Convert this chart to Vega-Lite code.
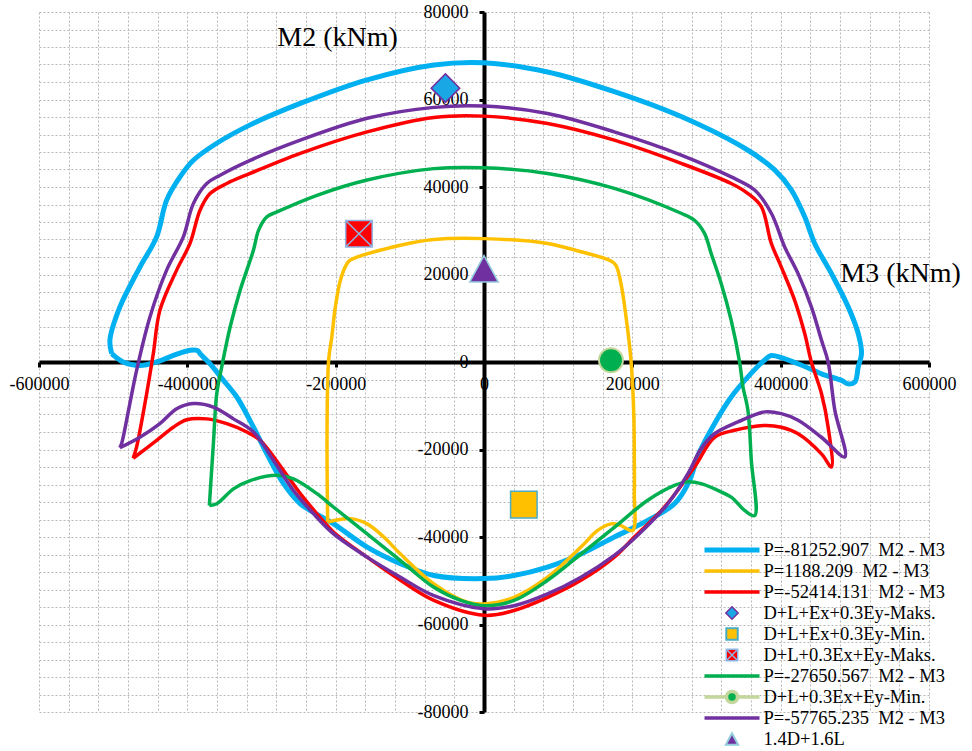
{
  "$schema": "https://vega.github.io/schema/vega-lite/v6.json",
  "width": 890,
  "height": 700,
  "autosize": {"type": "none"},
  "padding": {"left": 39, "top": 12, "right": 43, "bottom": 39},
  "background": "white",
  "datasets": {
    "curves": [
      {"s": "P=-81252.907  M2 - M3", "i": 1, "x": -502000, "y": 1900},
      {"s": "P=-81252.907  M2 - M3", "i": 2, "x": -504400, "y": 5000},
      {"s": "P=-81252.907  M2 - M3", "i": 3, "x": -490900, "y": 12600},
      {"s": "P=-81252.907  M2 - M3", "i": 4, "x": -463900, "y": 21700},
      {"s": "P=-81252.907  M2 - M3", "i": 5, "x": -441400, "y": 28600},
      {"s": "P=-81252.907  M2 - M3", "i": 6, "x": -427900, "y": 37000},
      {"s": "P=-81252.907  M2 - M3", "i": 7, "x": -409900, "y": 42300},
      {"s": "P=-81252.907  M2 - M3", "i": 8, "x": -391900, "y": 46100},
      {"s": "P=-81252.907  M2 - M3", "i": 9, "x": -360300, "y": 50000},
      {"s": "P=-81252.907  M2 - M3", "i": 10, "x": -315300, "y": 54200},
      {"s": "P=-81252.907  M2 - M3", "i": 11, "x": -247700, "y": 59100},
      {"s": "P=-81252.907  M2 - M3", "i": 12, "x": -157600, "y": 64500},
      {"s": "P=-81252.907  M2 - M3", "i": 13, "x": -67600, "y": 67900},
      {"s": "P=-81252.907  M2 - M3", "i": 14, "x": 0, "y": 68400},
      {"s": "P=-81252.907  M2 - M3", "i": 15, "x": 85700, "y": 66300},
      {"s": "P=-81252.907  M2 - M3", "i": 16, "x": 175700, "y": 61800},
      {"s": "P=-81252.907  M2 - M3", "i": 17, "x": 265800, "y": 56100},
      {"s": "P=-81252.907  M2 - M3", "i": 18, "x": 355900, "y": 48400},
      {"s": "P=-81252.907  M2 - M3", "i": 19, "x": 391900, "y": 43900},
      {"s": "P=-81252.907  M2 - M3", "i": 20, "x": 414500, "y": 39300},
      {"s": "P=-81252.907  M2 - M3", "i": 21, "x": 432400, "y": 33200},
      {"s": "P=-81252.907  M2 - M3", "i": 22, "x": 445900, "y": 27100},
      {"s": "P=-81252.907  M2 - M3", "i": 23, "x": 468500, "y": 20200},
      {"s": "P=-81252.907  M2 - M3", "i": 24, "x": 491000, "y": 12600},
      {"s": "P=-81252.907  M2 - M3", "i": 25, "x": 504600, "y": 6500},
      {"s": "P=-81252.907  M2 - M3", "i": 26, "x": 509000, "y": 1900},
      {"s": "P=-81252.907  M2 - M3", "i": 27, "x": 504600, "y": -1100},
      {"s": "P=-81252.907  M2 - M3", "i": 28, "x": 500000, "y": -4600},
      {"s": "P=-81252.907  M2 - M3", "i": 29, "x": 491000, "y": -5000},
      {"s": "P=-81252.907  M2 - M3", "i": 30, "x": 482000, "y": -4200},
      {"s": "P=-81252.907  M2 - M3", "i": 31, "x": 455000, "y": -2700},
      {"s": "P=-81252.907  M2 - M3", "i": 32, "x": 423500, "y": -400},
      {"s": "P=-81252.907  M2 - M3", "i": 33, "x": 387400, "y": 1500},
      {"s": "P=-81252.907  M2 - M3", "i": 34, "x": 380000, "y": 700},
      {"s": "P=-81252.907  M2 - M3", "i": 35, "x": 355900, "y": -3400},
      {"s": "P=-81252.907  M2 - M3", "i": 36, "x": 333300, "y": -8000},
      {"s": "P=-81252.907  M2 - M3", "i": 37, "x": 310800, "y": -14100},
      {"s": "P=-81252.907  M2 - M3", "i": 38, "x": 290000, "y": -20800},
      {"s": "P=-81252.907  M2 - M3", "i": 39, "x": 276000, "y": -27500},
      {"s": "P=-81252.907  M2 - M3", "i": 40, "x": 256800, "y": -32400},
      {"s": "P=-81252.907  M2 - M3", "i": 41, "x": 220800, "y": -36200},
      {"s": "P=-81252.907  M2 - M3", "i": 42, "x": 175700, "y": -40000},
      {"s": "P=-81252.907  M2 - M3", "i": 43, "x": 130700, "y": -43900},
      {"s": "P=-81252.907  M2 - M3", "i": 44, "x": 85700, "y": -46900},
      {"s": "P=-81252.907  M2 - M3", "i": 45, "x": 40500, "y": -48800},
      {"s": "P=-81252.907  M2 - M3", "i": 46, "x": 0, "y": -49500},
      {"s": "P=-81252.907  M2 - M3", "i": 47, "x": -67600, "y": -48800},
      {"s": "P=-81252.907  M2 - M3", "i": 48, "x": -112600, "y": -46100},
      {"s": "P=-81252.907  M2 - M3", "i": 49, "x": -157600, "y": -42300},
      {"s": "P=-81252.907  M2 - M3", "i": 50, "x": -202700, "y": -37000},
      {"s": "P=-81252.907  M2 - M3", "i": 51, "x": -247700, "y": -32400},
      {"s": "P=-81252.907  M2 - M3", "i": 52, "x": -270300, "y": -27800},
      {"s": "P=-81252.907  M2 - M3", "i": 53, "x": -292700, "y": -21000},
      {"s": "P=-81252.907  M2 - M3", "i": 54, "x": -310800, "y": -14900},
      {"s": "P=-81252.907  M2 - M3", "i": 55, "x": -333300, "y": -8000},
      {"s": "P=-81252.907  M2 - M3", "i": 56, "x": -351300, "y": -4200},
      {"s": "P=-81252.907  M2 - M3", "i": 57, "x": -369400, "y": -400},
      {"s": "P=-81252.907  M2 - M3", "i": 58, "x": -382900, "y": 1900},
      {"s": "P=-81252.907  M2 - M3", "i": 59, "x": -386000, "y": 2600},
      {"s": "P=-81252.907  M2 - M3", "i": 60, "x": -396400, "y": 2700},
      {"s": "P=-81252.907  M2 - M3", "i": 61, "x": -418900, "y": 1500},
      {"s": "P=-81252.907  M2 - M3", "i": 62, "x": -441400, "y": 0},
      {"s": "P=-81252.907  M2 - M3", "i": 63, "x": -463900, "y": -800},
      {"s": "P=-81252.907  M2 - M3", "i": 64, "x": -486500, "y": 0},
      {"s": "P=-81252.907  M2 - M3", "i": 65, "x": -502000, "y": 1900},

      {"s": "P=1188.209  M2 - M3", "i": 1, "x": -210800, "y": -36600},
      {"s": "P=1188.209  M2 - M3", "i": 2, "x": -211600, "y": -14900},
      {"s": "P=1188.209  M2 - M3", "i": 3, "x": -209500, "y": 400},
      {"s": "P=1188.209  M2 - M3", "i": 4, "x": -205000, "y": 6000},
      {"s": "P=1188.209  M2 - M3", "i": 5, "x": -200400, "y": 12600},
      {"s": "P=1188.209  M2 - M3", "i": 6, "x": -193600, "y": 18700},
      {"s": "P=1188.209  M2 - M3", "i": 7, "x": -184600, "y": 22500},
      {"s": "P=1188.209  M2 - M3", "i": 8, "x": -180200, "y": 23300},
      {"s": "P=1188.209  M2 - M3", "i": 9, "x": -112600, "y": 26700},
      {"s": "P=1188.209  M2 - M3", "i": 10, "x": -67600, "y": 28000},
      {"s": "P=1188.209  M2 - M3", "i": 11, "x": 0, "y": 28200},
      {"s": "P=1188.209  M2 - M3", "i": 12, "x": 85700, "y": 27100},
      {"s": "P=1188.209  M2 - M3", "i": 13, "x": 130700, "y": 25200},
      {"s": "P=1188.209  M2 - M3", "i": 14, "x": 171200, "y": 23100},
      {"s": "P=1188.209  M2 - M3", "i": 15, "x": 177900, "y": 22100},
      {"s": "P=1188.209  M2 - M3", "i": 16, "x": 184700, "y": 17900},
      {"s": "P=1188.209  M2 - M3", "i": 17, "x": 191500, "y": 10300},
      {"s": "P=1188.209  M2 - M3", "i": 18, "x": 198200, "y": 400},
      {"s": "P=1188.209  M2 - M3", "i": 19, "x": 202000, "y": -12000},
      {"s": "P=1188.209  M2 - M3", "i": 20, "x": 202700, "y": -22500},
      {"s": "P=1188.209  M2 - M3", "i": 21, "x": 202700, "y": -30100},
      {"s": "P=1188.209  M2 - M3", "i": 22, "x": 200500, "y": -38500},
      {"s": "P=1188.209  M2 - M3", "i": 23, "x": 184700, "y": -37400},
      {"s": "P=1188.209  M2 - M3", "i": 24, "x": 171200, "y": -37000},
      {"s": "P=1188.209  M2 - M3", "i": 25, "x": 153200, "y": -38500},
      {"s": "P=1188.209  M2 - M3", "i": 26, "x": 130700, "y": -42300},
      {"s": "P=1188.209  M2 - M3", "i": 27, "x": 85700, "y": -49200},
      {"s": "P=1188.209  M2 - M3", "i": 28, "x": 40500, "y": -53800},
      {"s": "P=1188.209  M2 - M3", "i": 29, "x": 0, "y": -55300},
      {"s": "P=1188.209  M2 - M3", "i": 30, "x": -22500, "y": -54900},
      {"s": "P=1188.209  M2 - M3", "i": 31, "x": -67600, "y": -50700},
      {"s": "P=1188.209  M2 - M3", "i": 32, "x": -112600, "y": -43900},
      {"s": "P=1188.209  M2 - M3", "i": 33, "x": -135100, "y": -40000},
      {"s": "P=1188.209  M2 - M3", "i": 34, "x": -157600, "y": -37000},
      {"s": "P=1188.209  M2 - M3", "i": 35, "x": -180200, "y": -35800},
      {"s": "P=1188.209  M2 - M3", "i": 36, "x": -210800, "y": -36600},

      {"s": "P=-52414.131  M2 - M3", "i": 1, "x": -473000, "y": -22000},
      {"s": "P=-52414.131  M2 - M3", "i": 2, "x": -468400, "y": -19400},
      {"s": "P=-52414.131  M2 - M3", "i": 3, "x": -457200, "y": -9500},
      {"s": "P=-52414.131  M2 - M3", "i": 4, "x": -445900, "y": 1900},
      {"s": "P=-52414.131  M2 - M3", "i": 5, "x": -437000, "y": 11800},
      {"s": "P=-52414.131  M2 - M3", "i": 6, "x": -414400, "y": 21000},
      {"s": "P=-52414.131  M2 - M3", "i": 7, "x": -396400, "y": 27100},
      {"s": "P=-52414.131  M2 - M3", "i": 8, "x": -382900, "y": 34700},
      {"s": "P=-52414.131  M2 - M3", "i": 9, "x": -369400, "y": 38500},
      {"s": "P=-52414.131  M2 - M3", "i": 10, "x": -346800, "y": 40800},
      {"s": "P=-52414.131  M2 - M3", "i": 11, "x": -315300, "y": 43100},
      {"s": "P=-52414.131  M2 - M3", "i": 12, "x": -247700, "y": 47700},
      {"s": "P=-52414.131  M2 - M3", "i": 13, "x": -157600, "y": 52600},
      {"s": "P=-52414.131  M2 - M3", "i": 14, "x": -67600, "y": 55900},
      {"s": "P=-52414.131  M2 - M3", "i": 15, "x": 0, "y": 56200},
      {"s": "P=-52414.131  M2 - M3", "i": 16, "x": 85700, "y": 54500},
      {"s": "P=-52414.131  M2 - M3", "i": 17, "x": 175700, "y": 50700},
      {"s": "P=-52414.131  M2 - M3", "i": 18, "x": 265800, "y": 45400},
      {"s": "P=-52414.131  M2 - M3", "i": 19, "x": 333300, "y": 40800},
      {"s": "P=-52414.131  M2 - M3", "i": 20, "x": 355900, "y": 38500},
      {"s": "P=-52414.131  M2 - M3", "i": 21, "x": 373900, "y": 35500},
      {"s": "P=-52414.131  M2 - M3", "i": 22, "x": 387400, "y": 27100},
      {"s": "P=-52414.131  M2 - M3", "i": 23, "x": 400900, "y": 21700},
      {"s": "P=-52414.131  M2 - M3", "i": 24, "x": 418900, "y": 14100},
      {"s": "P=-52414.131  M2 - M3", "i": 25, "x": 432400, "y": 6500},
      {"s": "P=-52414.131  M2 - M3", "i": 26, "x": 441400, "y": 0},
      {"s": "P=-52414.131  M2 - M3", "i": 27, "x": 455000, "y": -7200},
      {"s": "P=-52414.131  M2 - M3", "i": 28, "x": 464000, "y": -14900},
      {"s": "P=-52414.131  M2 - M3", "i": 29, "x": 468500, "y": -24000},
      {"s": "P=-52414.131  M2 - M3", "i": 30, "x": 455000, "y": -21000},
      {"s": "P=-52414.131  M2 - M3", "i": 31, "x": 423500, "y": -16400},
      {"s": "P=-52414.131  M2 - M3", "i": 32, "x": 400900, "y": -14900},
      {"s": "P=-52414.131  M2 - M3", "i": 33, "x": 378400, "y": -14500},
      {"s": "P=-52414.131  M2 - M3", "i": 34, "x": 337800, "y": -15600},
      {"s": "P=-52414.131  M2 - M3", "i": 35, "x": 310800, "y": -17200},
      {"s": "P=-52414.131  M2 - M3", "i": 36, "x": 283800, "y": -24000},
      {"s": "P=-52414.131  M2 - M3", "i": 37, "x": 243200, "y": -33200},
      {"s": "P=-52414.131  M2 - M3", "i": 38, "x": 202700, "y": -40000},
      {"s": "P=-52414.131  M2 - M3", "i": 39, "x": 175700, "y": -44600},
      {"s": "P=-52414.131  M2 - M3", "i": 40, "x": 130700, "y": -49900},
      {"s": "P=-52414.131  M2 - M3", "i": 41, "x": 85700, "y": -53800},
      {"s": "P=-52414.131  M2 - M3", "i": 42, "x": 40500, "y": -56800},
      {"s": "P=-52414.131  M2 - M3", "i": 43, "x": 0, "y": -57900},
      {"s": "P=-52414.131  M2 - M3", "i": 44, "x": -67600, "y": -54500},
      {"s": "P=-52414.131  M2 - M3", "i": 45, "x": -112600, "y": -49900},
      {"s": "P=-52414.131  M2 - M3", "i": 46, "x": -157600, "y": -44600},
      {"s": "P=-52414.131  M2 - M3", "i": 47, "x": -202700, "y": -38900},
      {"s": "P=-52414.131  M2 - M3", "i": 48, "x": -225200, "y": -34700},
      {"s": "P=-52414.131  M2 - M3", "i": 49, "x": -247700, "y": -30100},
      {"s": "P=-52414.131  M2 - M3", "i": 50, "x": -270300, "y": -24800},
      {"s": "P=-52414.131  M2 - M3", "i": 51, "x": -301800, "y": -17900},
      {"s": "P=-52414.131  M2 - M3", "i": 52, "x": -319800, "y": -16000},
      {"s": "P=-52414.131  M2 - M3", "i": 53, "x": -346800, "y": -14100},
      {"s": "P=-52414.131  M2 - M3", "i": 54, "x": -373800, "y": -13000},
      {"s": "P=-52414.131  M2 - M3", "i": 55, "x": -400900, "y": -13200},
      {"s": "P=-52414.131  M2 - M3", "i": 56, "x": -418900, "y": -14900},
      {"s": "P=-52414.131  M2 - M3", "i": 57, "x": -441400, "y": -17900},
      {"s": "P=-52414.131  M2 - M3", "i": 58, "x": -473000, "y": -22000},

      {"s": "P=-27650.567  M2 - M3", "i": 1, "x": -370300, "y": -32800},
      {"s": "P=-27650.567  M2 - M3", "i": 2, "x": -364900, "y": -18700},
      {"s": "P=-27650.567  M2 - M3", "i": 3, "x": -360300, "y": -7200},
      {"s": "P=-27650.567  M2 - M3", "i": 4, "x": -353600, "y": -1100},
      {"s": "P=-27650.567  M2 - M3", "i": 5, "x": -342300, "y": 8000},
      {"s": "P=-27650.567  M2 - M3", "i": 6, "x": -328800, "y": 16400},
      {"s": "P=-27650.567  M2 - M3", "i": 7, "x": -310800, "y": 25600},
      {"s": "P=-27650.567  M2 - M3", "i": 8, "x": -304000, "y": 30100},
      {"s": "P=-27650.567  M2 - M3", "i": 9, "x": -292700, "y": 33200},
      {"s": "P=-27650.567  M2 - M3", "i": 10, "x": -279200, "y": 34300},
      {"s": "P=-27650.567  M2 - M3", "i": 11, "x": -225200, "y": 38100},
      {"s": "P=-27650.567  M2 - M3", "i": 12, "x": -157600, "y": 41600},
      {"s": "P=-27650.567  M2 - M3", "i": 13, "x": -67600, "y": 44200},
      {"s": "P=-27650.567  M2 - M3", "i": 14, "x": 0, "y": 44400},
      {"s": "P=-27650.567  M2 - M3", "i": 15, "x": 85700, "y": 43100},
      {"s": "P=-27650.567  M2 - M3", "i": 16, "x": 175700, "y": 39700},
      {"s": "P=-27650.567  M2 - M3", "i": 17, "x": 265800, "y": 34000},
      {"s": "P=-27650.567  M2 - M3", "i": 18, "x": 283800, "y": 32400},
      {"s": "P=-27650.567  M2 - M3", "i": 19, "x": 297300, "y": 29400},
      {"s": "P=-27650.567  M2 - M3", "i": 20, "x": 306300, "y": 24800},
      {"s": "P=-27650.567  M2 - M3", "i": 21, "x": 319900, "y": 17900},
      {"s": "P=-27650.567  M2 - M3", "i": 22, "x": 333300, "y": 9500},
      {"s": "P=-27650.567  M2 - M3", "i": 23, "x": 344600, "y": 0},
      {"s": "P=-27650.567  M2 - M3", "i": 24, "x": 349200, "y": -5700},
      {"s": "P=-27650.567  M2 - M3", "i": 25, "x": 355900, "y": -11100},
      {"s": "P=-27650.567  M2 - M3", "i": 26, "x": 360400, "y": -22500},
      {"s": "P=-27650.567  M2 - M3", "i": 27, "x": 364900, "y": -35100},
      {"s": "P=-27650.567  M2 - M3", "i": 28, "x": 351300, "y": -33900},
      {"s": "P=-27650.567  M2 - M3", "i": 29, "x": 333300, "y": -30900},
      {"s": "P=-27650.567  M2 - M3", "i": 30, "x": 310800, "y": -29000},
      {"s": "P=-27650.567  M2 - M3", "i": 31, "x": 292800, "y": -27800},
      {"s": "P=-27650.567  M2 - M3", "i": 32, "x": 274800, "y": -27400},
      {"s": "P=-27650.567  M2 - M3", "i": 33, "x": 256800, "y": -28200},
      {"s": "P=-27650.567  M2 - M3", "i": 34, "x": 220800, "y": -31600},
      {"s": "P=-27650.567  M2 - M3", "i": 35, "x": 175700, "y": -37800},
      {"s": "P=-27650.567  M2 - M3", "i": 36, "x": 130700, "y": -43900},
      {"s": "P=-27650.567  M2 - M3", "i": 37, "x": 85700, "y": -49900},
      {"s": "P=-27650.567  M2 - M3", "i": 38, "x": 40500, "y": -54500},
      {"s": "P=-27650.567  M2 - M3", "i": 39, "x": 0, "y": -55700},
      {"s": "P=-27650.567  M2 - M3", "i": 40, "x": -31500, "y": -54500},
      {"s": "P=-27650.567  M2 - M3", "i": 41, "x": -67600, "y": -51500},
      {"s": "P=-27650.567  M2 - M3", "i": 42, "x": -112600, "y": -45400},
      {"s": "P=-27650.567  M2 - M3", "i": 43, "x": -157600, "y": -39300},
      {"s": "P=-27650.567  M2 - M3", "i": 44, "x": -202700, "y": -33200},
      {"s": "P=-27650.567  M2 - M3", "i": 45, "x": -225200, "y": -30100},
      {"s": "P=-27650.567  M2 - M3", "i": 46, "x": -256800, "y": -26700},
      {"s": "P=-27650.567  M2 - M3", "i": 47, "x": -279200, "y": -25900},
      {"s": "P=-27650.567  M2 - M3", "i": 48, "x": -315300, "y": -27100},
      {"s": "P=-27650.567  M2 - M3", "i": 49, "x": -337800, "y": -29000},
      {"s": "P=-27650.567  M2 - M3", "i": 50, "x": -360300, "y": -32400},
      {"s": "P=-27650.567  M2 - M3", "i": 51, "x": -370300, "y": -32800},

      {"s": "P=-57765.235  M2 - M3", "i": 1, "x": -491000, "y": -19600},
      {"s": "P=-57765.235  M2 - M3", "i": 2, "x": -488700, "y": -18700},
      {"s": "P=-57765.235  M2 - M3", "i": 3, "x": -477500, "y": -9500},
      {"s": "P=-57765.235  M2 - M3", "i": 4, "x": -468400, "y": -1900},
      {"s": "P=-57765.235  M2 - M3", "i": 5, "x": -450400, "y": 10300},
      {"s": "P=-57765.235  M2 - M3", "i": 6, "x": -427900, "y": 21000},
      {"s": "P=-57765.235  M2 - M3", "i": 7, "x": -405400, "y": 28600},
      {"s": "P=-57765.235  M2 - M3", "i": 8, "x": -391900, "y": 36200},
      {"s": "P=-57765.235  M2 - M3", "i": 9, "x": -373800, "y": 40800},
      {"s": "P=-57765.235  M2 - M3", "i": 10, "x": -355800, "y": 42700},
      {"s": "P=-57765.235  M2 - M3", "i": 11, "x": -315300, "y": 46100},
      {"s": "P=-57765.235  M2 - M3", "i": 12, "x": -247700, "y": 50700},
      {"s": "P=-57765.235  M2 - M3", "i": 13, "x": -157600, "y": 55700},
      {"s": "P=-57765.235  M2 - M3", "i": 14, "x": -67600, "y": 58200},
      {"s": "P=-57765.235  M2 - M3", "i": 15, "x": 0, "y": 58500},
      {"s": "P=-57765.235  M2 - M3", "i": 16, "x": 85700, "y": 56800},
      {"s": "P=-57765.235  M2 - M3", "i": 17, "x": 175700, "y": 52600},
      {"s": "P=-57765.235  M2 - M3", "i": 18, "x": 265800, "y": 47300},
      {"s": "P=-57765.235  M2 - M3", "i": 19, "x": 333300, "y": 42300},
      {"s": "P=-57765.235  M2 - M3", "i": 20, "x": 364900, "y": 39300},
      {"s": "P=-57765.235  M2 - M3", "i": 21, "x": 387400, "y": 34000},
      {"s": "P=-57765.235  M2 - M3", "i": 22, "x": 405400, "y": 26300},
      {"s": "P=-57765.235  M2 - M3", "i": 23, "x": 423500, "y": 20200},
      {"s": "P=-57765.235  M2 - M3", "i": 24, "x": 441400, "y": 12600},
      {"s": "P=-57765.235  M2 - M3", "i": 25, "x": 455000, "y": 5000},
      {"s": "P=-57765.235  M2 - M3", "i": 26, "x": 464000, "y": 0},
      {"s": "P=-57765.235  M2 - M3", "i": 27, "x": 473000, "y": -11000},
      {"s": "P=-57765.235  M2 - M3", "i": 28, "x": 486500, "y": -21700},
      {"s": "P=-57765.235  M2 - M3", "i": 29, "x": 455000, "y": -17200},
      {"s": "P=-57765.235  M2 - M3", "i": 30, "x": 423500, "y": -13300},
      {"s": "P=-57765.235  M2 - M3", "i": 31, "x": 400900, "y": -11800},
      {"s": "P=-57765.235  M2 - M3", "i": 32, "x": 378400, "y": -11400},
      {"s": "P=-57765.235  M2 - M3", "i": 33, "x": 342400, "y": -13700},
      {"s": "P=-57765.235  M2 - M3", "i": 34, "x": 310800, "y": -16400},
      {"s": "P=-57765.235  M2 - M3", "i": 35, "x": 292000, "y": -20000},
      {"s": "P=-57765.235  M2 - M3", "i": 36, "x": 275000, "y": -25500},
      {"s": "P=-57765.235  M2 - M3", "i": 37, "x": 247700, "y": -32400},
      {"s": "P=-57765.235  M2 - M3", "i": 38, "x": 207300, "y": -39600},
      {"s": "P=-57765.235  M2 - M3", "i": 39, "x": 175700, "y": -44200},
      {"s": "P=-57765.235  M2 - M3", "i": 40, "x": 130700, "y": -49200},
      {"s": "P=-57765.235  M2 - M3", "i": 41, "x": 85700, "y": -53000},
      {"s": "P=-57765.235  M2 - M3", "i": 42, "x": 40500, "y": -55700},
      {"s": "P=-57765.235  M2 - M3", "i": 43, "x": 0, "y": -56400},
      {"s": "P=-57765.235  M2 - M3", "i": 44, "x": -67600, "y": -53400},
      {"s": "P=-57765.235  M2 - M3", "i": 45, "x": -112600, "y": -49200},
      {"s": "P=-57765.235  M2 - M3", "i": 46, "x": -157600, "y": -44600},
      {"s": "P=-57765.235  M2 - M3", "i": 47, "x": -202700, "y": -39300},
      {"s": "P=-57765.235  M2 - M3", "i": 48, "x": -229700, "y": -34700},
      {"s": "P=-57765.235  M2 - M3", "i": 49, "x": -256800, "y": -29400},
      {"s": "P=-57765.235  M2 - M3", "i": 50, "x": -283800, "y": -22500},
      {"s": "P=-57765.235  M2 - M3", "i": 51, "x": -310800, "y": -16000},
      {"s": "P=-57765.235  M2 - M3", "i": 52, "x": -337800, "y": -13000},
      {"s": "P=-57765.235  M2 - M3", "i": 53, "x": -364900, "y": -10300},
      {"s": "P=-57765.235  M2 - M3", "i": 54, "x": -391900, "y": -9500},
      {"s": "P=-57765.235  M2 - M3", "i": 55, "x": -414400, "y": -10700},
      {"s": "P=-57765.235  M2 - M3", "i": 56, "x": -437000, "y": -14100},
      {"s": "P=-57765.235  M2 - M3", "i": 57, "x": -463900, "y": -17200},
      {"s": "P=-57765.235  M2 - M3", "i": 58, "x": -491000, "y": -19600}
    ],
    "pts": [
      {"s": "D+L+Ex+0.3Ey-Maks.", "x": -52000, "y": 62600},
      {"s": "D+L+Ex+0.3Ey-Min.", "x": 53700, "y": -32600},
      {"s": "D+L+0.3Ex+Ey-Maks.", "x": -168600, "y": 29300},
      {"s": "D+L+0.3Ex+Ey-Min.", "x": 171200, "y": 400},
      {"s": "1.4D+1.6L", "x": 0, "y": 21300}
    ]
  },
  "encoding": {
    "x": {
      "field": "x", "type": "quantitative",
      "scale": {"domain": [-600000, 600000], "nice": false, "zero": false},
      "axis": {
        "orient": "bottom", "offset": -350,
        "values": [-600000,-560000,-520000,-480000,-440000,-400000,-360000,-320000,-280000,-240000,-200000,-160000,-120000,-80000,-40000,0,40000,80000,120000,160000,200000,240000,280000,320000,360000,400000,440000,480000,520000,560000,600000],
        "labelExpr": "datum.value % 200000 === 0 ? '' + datum.value : ''",
        "tickOpacity": {"condition": {"test": "datum.value % 200000 === 0", "value": 1}, "value": 0},
        "title": "M3 (kNm)", "titleX": 861, "titleY": -89, "titleAngle": 0,
        "titleAlign": "center", "titleBaseline": "middle",
        "labelPadding": 8
      }
    },
    "y": {
      "field": "y", "type": "quantitative",
      "scale": {"domain": [-80000, 80000], "nice": false, "zero": false},
      "axis": {
        "orient": "left", "offset": -445,
        "values": [-80000,-76000,-72000,-68000,-64000,-60000,-56000,-52000,-48000,-44000,-40000,-36000,-32000,-28000,-24000,-20000,-16000,-12000,-8000,-4000,0,4000,8000,12000,16000,20000,24000,28000,32000,36000,40000,44000,48000,52000,56000,60000,64000,68000,72000,76000,80000],
        "labelExpr": "datum.value % 20000 === 0 ? '' + datum.value : ''",
        "tickOpacity": {"condition": {"test": "datum.value % 20000 === 0", "value": 1}, "value": 0},
        "title": "M2 (kNm)", "titleX": -147, "titleY": 25, "titleAngle": 0,
        "titleAlign": "center", "titleBaseline": "middle",
        "labelPadding": 11
      }
    }
  },
  "layer": [
    {
      "data": {"name": "curves"},
      "mark": {"type": "line", "interpolate": "catmull-rom"},
      "encoding": {
        "order": {"field": "i", "type": "quantitative"},
        "stroke": {
          "field": "s", "type": "nominal",
          "scale": {
            "domain": ["P=-81252.907  M2 - M3", "P=1188.209  M2 - M3", "P=-52414.131  M2 - M3", "D+L+Ex+0.3Ey-Maks.", "D+L+Ex+0.3Ey-Min.", "D+L+0.3Ex+Ey-Maks.", "P=-27650.567  M2 - M3", "D+L+0.3Ex+Ey-Min.", "P=-57765.235  M2 - M3", "1.4D+1.6L"],
            "range": ["#00b0f0", "#ffc000", "#ff0000", "#7030a0", "#4bacc6", "#8eb4e3", "#00b050", "#c3d69b", "#7030a0", "#92cddc"]
          },
          "legend": {"title": null, "labelExpr": "replace(datum.label, '  ', '\u00a0 ')"}
        },
        "strokeWidth": {
          "field": "s", "type": "nominal",
          "scale": {
            "type": "ordinal",
            "domain": ["P=-81252.907  M2 - M3", "P=1188.209  M2 - M3", "P=-52414.131  M2 - M3", "D+L+Ex+0.3Ey-Maks.", "D+L+Ex+0.3Ey-Min.", "D+L+0.3Ex+Ey-Maks.", "P=-27650.567  M2 - M3", "D+L+0.3Ex+Ey-Min.", "P=-57765.235  M2 - M3", "1.4D+1.6L"],
            "range": [5, 3.5, 3.5, 1.5, 2, 1.5, 3.5, 3.5, 3.5, 2]
          },
          "legend": {"title": null, "labelExpr": "replace(datum.label, '  ', '\u00a0 ')"}
        }
      }
    },
    {
      "data": {"name": "pts"},
      "transform": [{"filter": "datum.s !== 'D+L+0.3Ex+Ey-Min.'"}],
      "mark": {"type": "point", "filled": true, "size": 2600, "strokeWidth": 1.5, "opacity": 1},
      "encoding": {
        "shape": {
          "field": "s", "type": "nominal",
          "scale": {
            "domain": ["P=-81252.907  M2 - M3", "P=1188.209  M2 - M3", "P=-52414.131  M2 - M3", "D+L+Ex+0.3Ey-Maks.", "D+L+Ex+0.3Ey-Min.", "D+L+0.3Ex+Ey-Maks.", "P=-27650.567  M2 - M3", "D+L+0.3Ex+Ey-Min.", "P=-57765.235  M2 - M3", "1.4D+1.6L"],
            "range": [
              "M-2.5,0H2.5",
              "M-2.5,0H2.5",
              "M-2.5,0H2.5",
              "M0,-0.56L0.56,0L0,0.56L-0.56,0Z",
              "M-0.52,-0.52H0.52V0.52H-0.52Z",
              "M-0.52,-0.52H0.52V0.52H-0.52Z M-0.52,-0.52L0.52,0.52 M0.52,-0.52L-0.52,0.52",
              "M-2.5,0H2.5",
              "M-2.5,0H-0.5 M0.5,0H2.5 M0.5,0A0.5,0.5,0,1,1,-0.5,0A0.5,0.5,0,1,1,0.5,0Z",
              "M-2.5,0H2.5",
              "M0,-0.52L0.56,0.52L-0.56,0.52Z"
            ]
          },
          "legend": {"title": null, "labelExpr": "replace(datum.label, '  ', '\u00a0 ')"}
        },
        "fill": {
          "field": "s", "type": "nominal",
          "scale": {
            "domain": ["P=-81252.907  M2 - M3", "P=1188.209  M2 - M3", "P=-52414.131  M2 - M3", "D+L+Ex+0.3Ey-Maks.", "D+L+Ex+0.3Ey-Min.", "D+L+0.3Ex+Ey-Maks.", "P=-27650.567  M2 - M3", "D+L+0.3Ex+Ey-Min.", "P=-57765.235  M2 - M3", "1.4D+1.6L"],
            "range": ["#00b0f0", "#ffc000", "#ff0000", "#1aa7e6", "#ffc000", "#ff0000", "#00b050", "#00b050", "#7030a0", "#7030a0"]
          },
          "legend": {"title": null, "labelExpr": "replace(datum.label, '  ', '\u00a0 ')"}
        },
        "stroke": {"field": "s", "type": "nominal", "legend": {"title": null, "labelExpr": "replace(datum.label, '  ', '\u00a0 ')"}}
      }
    },
    {
      "data": {"name": "pts"},
      "transform": [{"filter": "datum.s === 'D+L+0.3Ex+Ey-Min.'"}],
      "mark": {"type": "point", "shape": "circle", "filled": true, "size": 570, "fill": "#00b050", "stroke": "#c3d69b", "strokeWidth": 2, "opacity": 1},
      "encoding": {}
    }
  ],
  "config": {
    "view": {"stroke": null},
    "font": "Liberation Serif",
    "axis": {
      "grid": true, "gridColor": "#b8b8b8", "gridDash": [2, 2], "gridWidth": 1, "gridOpacity": 1,
      "domainColor": "black", "domainWidth": 4,
      "tickColor": "black", "tickSize": 5, "tickWidth": 3,
      "labelFont": "Liberation Serif", "labelFontSize": 18, "labelColor": "black",
      "titleFont": "Liberation Serif", "titleFontSize": 28, "titleFontWeight": "normal", "titleColor": "black",
      "labelOverlap": false, "labelFlush": false
    },
    "legend": {
      "orient": "none", "legendX": 663, "legendY": 527.6,
      "padding": 0, "offset": 0,
      "symbolSize": 484, "labelOffset": 18, "symbolOffset": 16.5,
      "clipHeight": 20.8,
      "labelFont": "Liberation Serif", "labelFontSize": 18.5, "labelColor": "black", "labelLimit": 400,
      "rowPadding": 0
    }
  }
}
